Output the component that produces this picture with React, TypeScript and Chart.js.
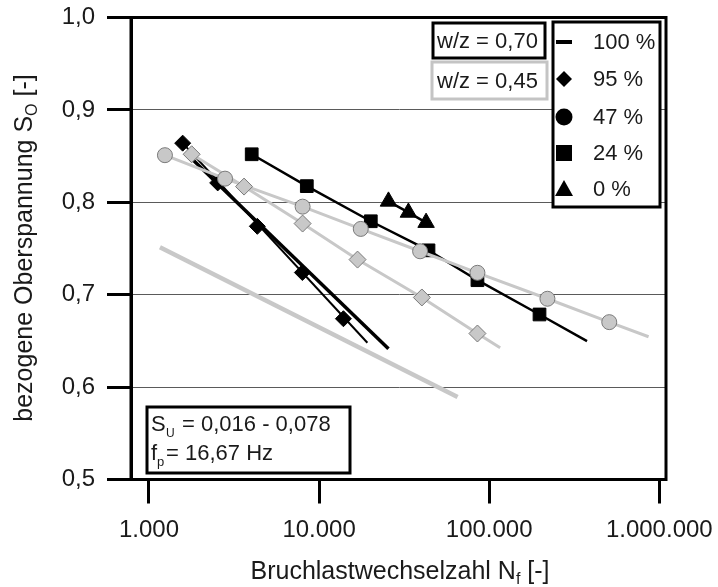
import React, { useEffect, useRef } from 'react';
import { Chart, registerables } from 'chart.js';

Chart.register(...registerables);

// ---- axis ticks ----
const xTickValues = [1000, 10000, 100000, 1000000];
const xTickLabels = ['1.000', '10.000', '100.000', '1.000.000'];
const yTickValues = [0.5, 0.6, 0.7, 0.8, 0.9, 1.0];
const yTickLabels = ['0,5', '0,6', '0,7', '0,8', '0,9', '1,0'];

// ---- w/z = 0,70 (black) ----
const wz70_100_lineN = [1742, 25580];
const wz70_100_lineS = [0.849, 0.6415];

const wz70_95_N = [1578, 2535, 4335, 7975, 13900];
const wz70_95_S = [0.864, 0.821, 0.774, 0.724, 0.674];
const wz70_95_lineN = [1578, 19230];
const wz70_95_lineS = [0.864, 0.648];

const wz70_24_N = [4018, 8470, 20140, 43970, 85300, 197600];
const wz70_24_S = [0.852, 0.8175, 0.7795, 0.748, 0.7157, 0.6786];
const wz70_24_lineN = [4018, 8470, 20140, 43970, 85300, 197600, 376000];
const wz70_24_lineS = [0.852, 0.8175, 0.7795, 0.748, 0.7157, 0.6786, 0.6497];

const wz70_0_N = [25580, 33500, 42560];
const wz70_0_S = [0.801, 0.789, 0.778];

// ---- w/z = 0,45 (grey) ----
const wz45_100_lineN = [1160, 65200];
const wz45_100_lineS = [0.7514, 0.5892];

const wz45_95_N = [1782, 3622, 8000, 16830, 40200, 85300];
const wz45_95_S = [0.852, 0.817, 0.777, 0.738, 0.697, 0.658];
const wz45_95_lineN = [1782, 3622, 8000, 16830, 40200, 85300, 116000];
const wz45_95_lineS = [0.852, 0.817, 0.777, 0.738, 0.697, 0.658, 0.6426];

const wz45_47_N = [1241, 2800, 8000, 17580, 39250, 85300, 220000, 508000];
const wz45_47_S = [0.851, 0.8256, 0.7953, 0.7712, 0.747, 0.7237, 0.6956, 0.6703];
const wz45_47_lineN = [1241, 2800, 8000, 17580, 39250, 85300, 220000, 508000, 865000];
const wz45_47_lineS = [0.851, 0.8256, 0.7953, 0.7712, 0.747, 0.7237, 0.6956, 0.6703, 0.6545];

const legendLabels = ['100 %', '95 %', '47 %', '24 %', '0 %'];

const GREY = '#c8c8c8';
const GREY_EDGE = '#7a7a7a';
const FONT = '"Liberation Sans", Arial, sans-serif';

const pts = (N: number[], S: number[]) => N.map((n, i) => ({ x: n, y: S[i] }));

const lineDs = (N: number[], S: number[], color: string, width: number) => ({
  data: pts(N, S),
  showLine: true,
  borderColor: color,
  borderWidth: width,
  pointRadius: 0,
  pointHoverRadius: 0,
  fill: false,
  tension: 0,
});

const markerDs = (N: number[], S: number[], style: string, r: number, fill: string, edge: string) => ({
  data: pts(N, S),
  showLine: false,
  pointStyle: style,
  pointRadius: r,
  pointHoverRadius: r,
  backgroundColor: fill,
  borderColor: edge,
  pointBorderWidth: 1,
});

const overlayPlugin = {
  id: 'overlay',
  afterDraw(chart: any) {
    const ctx = chart.ctx as CanvasRenderingContext2D;
    const a = chart.chartArea;
    ctx.save();
    // frame
    ctx.strokeStyle = '#000';
    ctx.lineWidth = 3;
    ctx.strokeRect(a.left, a.top, a.right - a.left, a.bottom - a.top);

    ctx.fillStyle = '#1a1a1a';
    ctx.textBaseline = 'alphabetic';
    ctx.textAlign = 'left';

    // x title
    {
      const big = '25px ' + FONT;
      const small = '16px ' + FONT;
      ctx.font = big;
      const t1 = 'Bruchlastwechselzahl N';
      const t3 = ' [-]';
      const w1 = ctx.measureText(t1).width;
      const w3 = ctx.measureText(t3).width;
      ctx.font = small;
      const w2 = ctx.measureText('f').width;
      const total = w1 + w2 + w3;
      let x = 400 - total / 2;
      const y = 579;
      ctx.font = big;
      ctx.fillText(t1, x, y);
      x += w1;
      ctx.font = small;
      ctx.fillText('f', x, y + 5);
      x += w2;
      ctx.font = big;
      ctx.fillText(t3, x, y);
    }
    // y title
    {
      ctx.save();
      ctx.translate(32, 248);
      ctx.rotate(-Math.PI / 2);
      const big = '25px ' + FONT;
      const small = '16px ' + FONT;
      ctx.font = big;
      const t1 = 'bezogene Oberspannung S';
      const t3 = ' [-]';
      const w1 = ctx.measureText(t1).width;
      const w3 = ctx.measureText(t3).width;
      ctx.font = small;
      const w2 = ctx.measureText('O').width;
      const total = w1 + w2 + w3;
      let x = -total / 2;
      ctx.font = big;
      ctx.fillText(t1, x, 0);
      x += w1;
      ctx.font = small;
      ctx.fillText('O', x, 5);
      x += w2;
      ctx.font = big;
      ctx.fillText(t3, x, 0);
      ctx.restore();
    }

    // w/z boxes
    ctx.fillStyle = '#fff';
    ctx.fillRect(433, 23, 112, 35);
    ctx.strokeStyle = '#000';
    ctx.lineWidth = 3;
    ctx.strokeRect(433, 23, 112, 35);
    ctx.fillRect(432, 62, 115, 37);
    ctx.strokeStyle = '#c4c4c4';
    ctx.strokeRect(432, 62, 115, 37);
    ctx.fillStyle = '#1a1a1a';
    ctx.font = '22px ' + FONT;
    ctx.textBaseline = 'middle';
    ctx.fillText('w/z = 0,70', 437, 41.5);
    ctx.fillText('w/z = 0,45', 437, 81.5);

    // legend box
    ctx.fillStyle = '#fff';
    ctx.fillRect(553, 22, 107, 185);
    ctx.strokeStyle = '#000';
    ctx.lineWidth = 3;
    ctx.strokeRect(553, 22, 107, 185);
    const rows = [42, 79, 117, 153, 189];
    ctx.fillStyle = '#000';
    const mx = 564;
    // 100 % line
    ctx.lineWidth = 4;
    ctx.beginPath();
    ctx.moveTo(556, rows[0]);
    ctx.lineTo(572, rows[0]);
    ctx.stroke();
    // 95 % diamond
    ctx.beginPath();
    ctx.moveTo(mx - 8, rows[1]);
    ctx.lineTo(mx, rows[1] - 8);
    ctx.lineTo(mx + 8, rows[1]);
    ctx.lineTo(mx, rows[1] + 8);
    ctx.closePath();
    ctx.fill();
    // 47 % circle
    ctx.beginPath();
    ctx.arc(mx, rows[2], 8.5, 0, Math.PI * 2);
    ctx.fill();
    // 24 % square
    ctx.fillRect(mx - 8, rows[3] - 8, 16, 16);
    // 0 % triangle
    ctx.beginPath();
    ctx.moveTo(mx, rows[4] - 9);
    ctx.lineTo(mx + 9, rows[4] + 7);
    ctx.lineTo(mx - 9, rows[4] + 7);
    ctx.closePath();
    ctx.fill();
    ctx.fillStyle = '#1a1a1a';
    ctx.font = '22px ' + FONT;
    legendLabels.forEach((l, i) => ctx.fillText(l, 593, rows[i] + 1));

    // conditions box
    ctx.fillStyle = '#fff';
    ctx.fillRect(147, 407, 203, 66);
    ctx.strokeStyle = '#000';
    ctx.lineWidth = 3;
    ctx.strokeRect(147, 407, 203, 66);
    ctx.fillStyle = '#1a1a1a';
    ctx.textBaseline = 'alphabetic';
    ctx.font = '22px ' + FONT;
    ctx.fillText('S', 151, 431);
    ctx.font = '12px ' + FONT;
    ctx.fillText('U', 166, 437);
    ctx.font = '22px ' + FONT;
    ctx.fillText('= 0,016 - 0,078', 182, 431);
    ctx.fillText('f', 151, 460);
    ctx.font = '13px ' + FONT;
    ctx.fillText('p', 157, 466);
    ctx.font = '22px ' + FONT;
    ctx.fillText('= 16,67 Hz', 166, 460);

    ctx.restore();
  },
};

export default function App() {
  const ref = useRef<HTMLCanvasElement>(null);
  useEffect(() => {
    const canvas = ref.current;
    if (!canvas) return;
    const chart = new Chart(canvas, {
      type: 'scatter',
      data: {
        datasets: [
          markerDs(wz45_47_N, wz45_47_S, 'circle', 7.5, GREY, GREY_EDGE),
          markerDs(wz45_95_N, wz45_95_S, 'rectRot', 8.5, GREY, GREY_EDGE),
          lineDs(wz45_47_lineN, wz45_47_lineS, GREY, 3),
          lineDs(wz45_95_lineN, wz45_95_lineS, GREY, 3),
          lineDs(wz45_100_lineN, wz45_100_lineS, GREY, 4.5),
          markerDs(wz70_24_N, wz70_24_S, 'rect', 9, '#000', '#000'),
          markerDs(wz70_95_N, wz70_95_S, 'rectRot', 8, '#000', '#000'),
          markerDs(wz70_0_N, wz70_0_S, 'triangle', 9.5, '#000', '#000'),
          lineDs(wz70_24_lineN, wz70_24_lineS, '#000', 2.5),
          lineDs(wz70_95_lineN, wz70_95_lineS, '#000', 2),
          lineDs(wz70_0_N, wz70_0_S, '#000', 2.5),
          lineDs(wz70_100_lineN, wz70_100_lineS, '#000', 3.5),
        ] as any,
      },
      options: {
        animation: false,
        responsive: false,
        events: [],
        layout: { padding: { top: 17.5, right: 52, left: 0, bottom: 0 } },
        plugins: { legend: { display: false }, tooltip: { enabled: false } },
        scales: {
          x: {
            type: 'logarithmic',
            min: 784,
            max: 1095000,
            afterBuildTicks: (s: any) => {
              s.ticks = xTickValues.map((v) => ({ value: v }));
            },
            afterFit: (s: any) => {
              s.height = 107.5;
              s.paddingLeft = 0;
              s.paddingRight = 0;
            },
            ticks: {
              autoSkip: false,
              maxRotation: 0,
              minRotation: 0,
              padding: 12,
              color: '#1a1a1a',
              font: { family: 'Liberation Sans', size: 24 },
              callback: (_v: any, i: number) => xTickLabels[i],
            },
            grid: {
              drawOnChartArea: false,
              drawTicks: true,
              tickLength: 24,
              tickWidth: 3,
              tickColor: '#000',
            },
            border: { display: true, color: '#000', width: 3 },
            title: { display: false },
          },
          y: {
            type: 'linear',
            min: 0.5,
            max: 1.0,
            afterBuildTicks: (s: any) => {
              s.ticks = yTickValues.map((v) => ({ value: v }));
            },
            afterFit: (s: any) => {
              s.width = 131;
              s.paddingTop = 0;
              s.paddingBottom = 0;
            },
            ticks: {
              padding: 12,
              color: '#1a1a1a',
              font: { family: 'Liberation Sans', size: 24 },
              callback: (_v: any, i: number) => yTickLabels[i],
            },
            grid: {
              drawOnChartArea: true,
              drawTicks: true,
              tickLength: 24,
              tickWidth: 3,
              tickColor: '#000',
              lineWidth: 1,
              color: (c: any) => {
                const v = c.tick ? c.tick.value : 0;
                return v < 0.55 || v > 0.95 ? 'rgba(0,0,0,0)' : '#5a5a5a';
              },
            },
            border: { display: true, color: '#000', width: 3 },
            title: { display: false },
          },
        },
      },
      plugins: [overlayPlugin],
    } as any);
    return () => chart.destroy();
  }, []);

  return (
    <div style={{ position: 'absolute', left: 0, top: 0, width: 718, height: 587, background: '#fff' }}>
      <canvas ref={ref} width={718} height={587} style={{ display: 'block', width: 718, height: 587 }} />
    </div>
  );
}
